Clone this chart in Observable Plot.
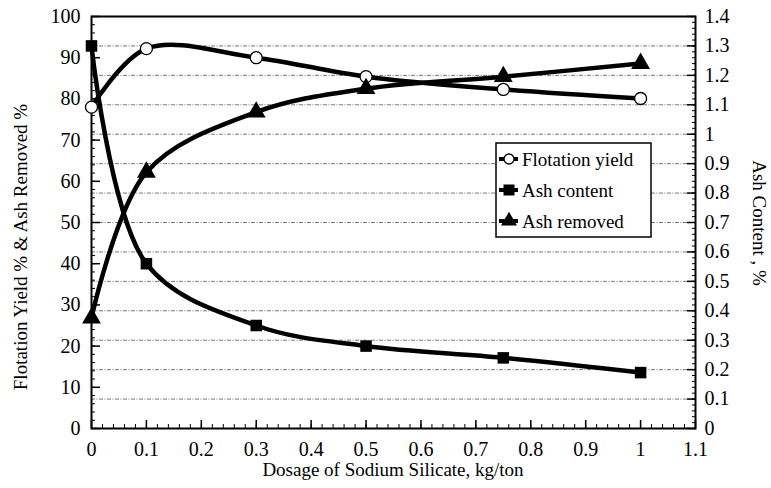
<!DOCTYPE html>
<html>
<head>
<meta charset="utf-8">
<script src="https://cdn.jsdelivr.net/npm/d3@7"></script>
<script src="https://cdn.jsdelivr.net/npm/@observablehq/plot@0.6"></script>
<style>
  html, body { margin: 0; padding: 0; background: #fff; }
  #chart { width: 771px; height: 488px; }
</style>
</head>
<body>
<div id="chart"></div>
<script>
// ---- data ----
const dosage = [0, 0.1, 0.3, 0.5, 0.75, 1.0];
const flotationYield = [78, 92.2, 90, 85.4, 82.3, 80.1];      // left axis, %
const ashRemoved = [26.8, 62.2, 76.8, 82.5, 85.4, 88.6];       // left axis, %
const ashContent = [1.30, 0.56, 0.35, 0.28, 0.24, 0.19];       // right axis, %
const xTicks = [0, 0.1, 0.2, 0.3, 0.4, 0.5, 0.6, 0.7, 0.8, 0.9, 1, 1.1];
const leftTicks = [0, 10, 20, 30, 40, 50, 60, 70, 80, 90, 100];
const rightTicks = [0, 0.1, 0.2, 0.3, 0.4, 0.5, 0.6, 0.7, 0.8, 0.9, 1, 1.1, 1.2, 1.3, 1.4];
const seriesNames = ["Flotation yield", "Ash content", "Ash removed"];

const leftMax = 100, rightMax = 1.4;
const toLeft = v => v * leftMax / rightMax;

const rows = [];
dosage.forEach((x, i) => {
  rows.push({series: seriesNames[0], x, y: flotationYield[i]});
  rows.push({series: seriesNames[1], x, y: toLeft(ashContent[i])});
  rows.push({series: seriesNames[2], x, y: ashRemoved[i]});
});
const bySeries = s => rows.filter(d => d.series === s);

const xMinor = d3.range(0, 1.1001, 0.02).map(v => +v.toFixed(2));
const leftMinor = d3.range(0, 100.001, 2);
const rightMinor = d3.range(0, 1.4001, 0.02).map(v => toLeft(v));
const grid = rightTicks.filter(v => v > 0 && v < rightMax).map(toLeft);

const font = "'Liberation Serif', 'Times New Roman', serif";

const plot = Plot.plot({
  width: 771,
  height: 488,
  marginLeft: 91,
  marginRight: 76,
  marginTop: 16,
  marginBottom: 60,
  style: {fontFamily: font, fontSize: "20px", color: "#000", background: "#fff"},
  x: {domain: [0, 1.1]},
  y: {domain: [0, 100]},
  marks: [
    Plot.ruleY(grid, {stroke: "#777", strokeWidth: 1, strokeDasharray: "4,1.5,1,1.5"}),
    // axes
    Plot.axisX(xTicks, {tickSize: -8, tickPadding: 21, tickFormat: d => String(d), label: null, strokeWidth: 1.5}),
    Plot.axisX(xMinor, {tickSize: -4, text: null, label: null, strokeWidth: 1}),
    Plot.axisY(leftTicks, {anchor: "left", tickSize: -9, tickPadding: 20, tickFormat: d => String(d), label: null, strokeWidth: 1.5}),
    Plot.axisY(leftMinor, {anchor: "left", tickSize: -4, text: null, label: null, strokeWidth: 1}),
    Plot.axisY(rightTicks.map(toLeft), {anchor: "right", tickSize: -9, tickPadding: 18,
      tickFormat: d => String(+(d * rightMax / leftMax).toFixed(1)), label: null, strokeWidth: 1.5}),
    Plot.axisY(rightMinor, {anchor: "right", tickSize: -4, text: null, label: null, strokeWidth: 1}),
    Plot.frame({stroke: "#000", strokeWidth: 2}),
    // lines
    Plot.line(bySeries(seriesNames[0]), {x: "x", y: "y", curve: "catmull-rom", stroke: "#000", strokeWidth: 4.5}),
    Plot.line(bySeries(seriesNames[1]), {x: "x", y: "y", curve: "catmull-rom", stroke: "#000", strokeWidth: 4.5}),
    Plot.line(bySeries(seriesNames[2]), {x: "x", y: "y", curve: "catmull-rom", stroke: "#000", strokeWidth: 4.5}),
    // markers
    Plot.dot(bySeries(seriesNames[0]), {x: "x", y: "y", r: 6, stroke: "#000", strokeWidth: 1.3, fill: "#fff"}),
    Plot.dot(bySeries(seriesNames[1]), {x: "x", y: "y", r: 6.5, symbol: "square", fill: "#000", stroke: "none"}),
    Plot.dot(bySeries(seriesNames[2]), {x: "x", y: "y", r: 7, symbol: "triangle", fill: "#000", stroke: "none"})
  ]
});

document.getElementById("chart").appendChild(plot);

// axis titles and legend
const svg = d3.select(plot);
svg.append("text")
  .attr("x", 393).attr("y", 476)
  .attr("text-anchor", "middle")
  .style("font-family", font).attr("font-size", 19)
  .text("Dosage of Sodium Silicate, kg/ton");
svg.append("text")
  .attr("transform", "translate(27,247) rotate(-90)")
  .attr("text-anchor", "middle")
  .style("font-family", font).attr("font-size", 19)
  .text("Flotation Yield % & Ash Removed %");
svg.append("text")
  .attr("transform", "translate(753,223) rotate(90)")
  .attr("text-anchor", "middle")
  .style("font-family", font).attr("font-size", 19)
  .text("Ash Content , %");

const lg = svg.append("g").attr("transform", "translate(496,143)");
lg.append("rect").attr("width", 155).attr("height", 94)
  .attr("fill", "#fff").attr("stroke", "#000").attr("stroke-width", 1.5);
const symbols = [
  g => g.append("circle").attr("r", 5).attr("fill", "#fff").attr("stroke", "#000").attr("stroke-width", 1.3),
  g => g.append("rect").attr("x", -5.5).attr("y", -5.5).attr("width", 11).attr("height", 11).attr("fill", "#000"),
  g => g.append("path").attr("d", d3.symbol(d3.symbolTriangle, 110)()).attr("fill", "#000")
];
seriesNames.forEach((name, i) => {
  const row = lg.append("g").attr("transform", `translate(0,${16 + i * 31})`);
  row.append("line").attr("x1", 3).attr("x2", 22).attr("y1", 0).attr("y2", 0)
    .attr("stroke", "#000").attr("stroke-width", 4);
  symbols[i](row.append("g").attr("transform", "translate(13,0)"));
  row.append("text").attr("x", 26).attr("y", 6.5)
    .attr("text-anchor", "start")
    .style("font-family", font).attr("font-size", 19).text(name);
});
</script>
</body>
</html>
